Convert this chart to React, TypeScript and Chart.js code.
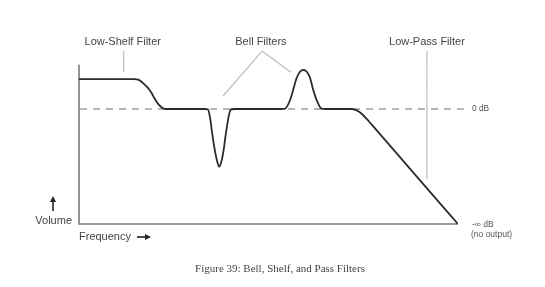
import React, { useEffect, useRef } from "react";
import { Chart, registerables } from "chart.js";

Chart.register(...registerables);

// Frequency position (0 = left edge, 100 = right edge of axis)
const freq: number[] = [
  0, 14.5, 15.8, 16.5, 17.2, 17.9, 18.5, 19.2, 19.8, 20.4, 21.0, 21.6, 22.2, 23.0,
  33.2, 34.0, 34.6, 35.2, 35.9, 36.5, 37.0, 37.5, 38.1, 38.7, 39.4, 40.0, 40.9,
  53.4, 54.4, 55.7, 56.5, 57.4, 58.3, 59.2, 60.1, 61.0, 61.8, 62.7, 64.0, 65.0,
  71.8, 72.8, 73.8, 74.8, 75.9, 77.0, 78.1, 89.7, 100,
];
// Volume level (10 = 0 dB, 0 = -inf dB)
const volume: number[] = [
  12.6, 12.6, 12.53, 12.37, 12.16, 11.94, 11.7, 11.37, 11.0, 10.68, 10.4, 10.2, 10.06, 10.0,
  10, 9.97, 9.2, 7.74, 6.29, 5.4, 4.98, 5.35, 6.29, 7.74, 9.19, 9.95, 10,
  10, 10.03, 10.78, 11.65, 12.67, 13.24, 13.39, 13.24, 12.67, 11.65, 10.78, 10.03, 10,
  10, 9.94, 9.78, 9.52, 9.14, 8.73, 8.32, 3.9, 0,
];

const zeroDb = 10;
const yMax = 14;

const callouts = {
  shelf: { label: "Low-Shelf Filter", x: 11.8 },
  bell: { label: "Bell Filters", x: 48.0, targets: [[38.0, 11.13], [55.9, 13.2]] as number[][] },
  lowPass: { label: "Low-Pass Filter", x: 91.8 },
};
const zeroLabel = "0 dB";
const infLabel = "-∞ dB";
const noOutLabel = "(no output)";
const yTitle = "Volume";
const xTitle = "Frequency";
const caption = "Figure 39: Bell, Shelf, and Pass Filters";

const sans = "'Liberation Sans', Arial, Helvetica, sans-serif";
const serif = "'Liberation Serif', 'Times New Roman', serif";

const overlay = {
  id: "overlay",
  beforeDatasetsDraw(chart: any) {
    const { ctx, chartArea: a, scales } = chart;
    const x = scales.x;
    const y = scales.y;
    const y0 = y.getPixelForValue(zeroDb);
    ctx.save();
    // dashed 0 dB reference
    ctx.strokeStyle = "#a0a0a0";
    ctx.lineWidth = 1.3;
    ctx.setLineDash([7, 6]);
    ctx.beginPath();
    ctx.moveTo(a.left + 1, y0);
    ctx.lineTo(a.right + 8, y0);
    ctx.stroke();
    ctx.setLineDash([]);
    // axes
    ctx.strokeStyle = "#7a7a7a";
    ctx.lineWidth = 1.6;
    ctx.beginPath();
    ctx.moveTo(a.left, y.getPixelForValue(13.85));
    ctx.lineTo(a.left, a.bottom);
    ctx.lineTo(x.getPixelForValue(100), a.bottom);
    ctx.stroke();
    ctx.restore();
  },
  afterDatasetsDraw(chart: any) {
    const { ctx, chartArea: a, scales } = chart;
    const x = scales.x;
    const y = scales.y;
    const y0 = y.getPixelForValue(zeroDb);
    const labelY = y.getPixelForValue(15.8);
    const lineTop = y.getPixelForValue(15.04);
    ctx.save();
    // callout lines
    ctx.strokeStyle = "#bdbdbd";
    ctx.lineWidth = 1.2;
    ctx.beginPath();
    const sx = x.getPixelForValue(callouts.shelf.x);
    ctx.moveTo(sx, lineTop);
    ctx.lineTo(sx, y.getPixelForValue(13.2));
    const bx = x.getPixelForValue(callouts.bell.x + 0.3);
    for (const t of callouts.bell.targets) {
      ctx.moveTo(bx, lineTop);
      ctx.lineTo(x.getPixelForValue(t[0]), y.getPixelForValue(t[1]));
    }
    const lx = x.getPixelForValue(callouts.lowPass.x);
    ctx.moveTo(lx, lineTop);
    ctx.lineTo(lx, y.getPixelForValue(3.91));
    ctx.stroke();

    // callout labels
    ctx.fillStyle = "#444";
    ctx.font = `11px ${sans}`;
    ctx.textAlign = "center";
    ctx.textBaseline = "middle";
    ctx.fillText(callouts.shelf.label, x.getPixelForValue(callouts.shelf.x) - 1, labelY);
    ctx.fillText(callouts.bell.label, x.getPixelForValue(callouts.bell.x), labelY);
    ctx.fillText(callouts.lowPass.label, x.getPixelForValue(callouts.lowPass.x), labelY);

    // right side labels
    ctx.fillStyle = "#555";
    ctx.textAlign = "left";
    ctx.font = `8.3px ${sans}`;
    ctx.fillText(zeroLabel, a.right + 14, y0);
    ctx.font = `8.5px ${sans}`;
    ctx.fillText(infLabel, a.right + 14, a.bottom + 1);
    ctx.fillText(noOutLabel, a.right + 13, a.bottom + 11);

    // axis titles
    ctx.fillStyle = "#444";
    ctx.font = `11px ${sans}`;
    ctx.textAlign = "right";
    ctx.fillText(yTitle, a.left - 7, a.bottom - 3);
    ctx.textAlign = "left";
    ctx.fillText(xTitle, a.left, a.bottom + 13);

    // arrows
    ctx.strokeStyle = "#222";
    ctx.fillStyle = "#222";
    ctx.lineWidth = 1.6;
    const ax = a.left - 26;
    ctx.beginPath();
    ctx.moveTo(ax, a.bottom - 13);
    ctx.lineTo(ax, a.bottom - 23);
    ctx.stroke();
    ctx.beginPath();
    ctx.moveTo(ax, a.bottom - 28);
    ctx.lineTo(ax - 3, a.bottom - 22);
    ctx.lineTo(ax + 3, a.bottom - 22);
    ctx.closePath();
    ctx.fill();
    const ry = a.bottom + 13;
    const rx = a.left + 58;
    ctx.beginPath();
    ctx.moveTo(rx, ry);
    ctx.lineTo(rx + 9, ry);
    ctx.stroke();
    ctx.beginPath();
    ctx.moveTo(rx + 14, ry);
    ctx.lineTo(rx + 8, ry - 3);
    ctx.lineTo(rx + 8, ry + 3);
    ctx.closePath();
    ctx.fill();

    // caption
    ctx.fillStyle = "#444";
    ctx.font = `11px ${serif}`;
    ctx.textAlign = "center";
    ctx.fillText(caption, 280, 269);
    ctx.restore();
  },
};

export default function App() {
  const ref = useRef<HTMLCanvasElement | null>(null);
  useEffect(() => {
    if (!ref.current) return;
    const chart = new Chart(ref.current, {
      type: "line",
      data: {
        datasets: [
          {
            data: freq.map((f, i) => ({ x: f, y: volume[i] })),
            borderColor: "#2b2b2b",
            borderWidth: 1.8,
            pointRadius: 0,
            cubicInterpolationMode: "monotone",
            fill: false,
          },
        ],
      },
      options: {
        animation: false,
        responsive: false,
        maintainAspectRatio: false,
        devicePixelRatio: 1,
        layout: { padding: { left: 79, right: 87, top: 63, bottom: 63 } },
        plugins: { legend: { display: false }, tooltip: { enabled: false }, title: { display: false } },
        scales: {
          x: { type: "linear", min: 0, max: 100, display: false },
          y: { type: "linear", min: 0, max: yMax, display: false },
        },
      },
      plugins: [overlay],
    });
    return () => chart.destroy();
  }, []);
  return (
    <div style={{ position: "fixed", left: 0, top: 0, width: 545, height: 287, background: "#fff" }}>
      <canvas ref={ref} width={545} height={287} style={{ width: 545, height: 287, display: "block" }} />
    </div>
  );
}
